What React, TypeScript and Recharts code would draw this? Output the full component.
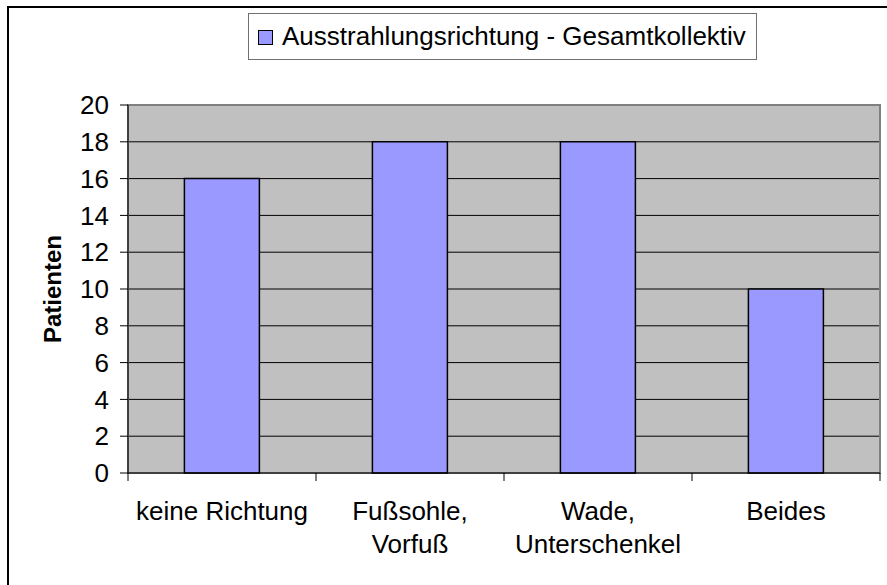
import {
  Bar,
  BarChart,
  CartesianGrid,
  Legend,
  ReferenceArea,
  XAxis,
  YAxis,
} from 'recharts';

const CATEGORIES = ['keine Richtung', 'Fußsohle,\nVorfuß', 'Wade,\nUnterschenkel', 'Beides'];
const PATIENTEN = [16, 18, 18, 10];
const Y_TICKS = [0, 2, 4, 6, 8, 10, 12, 14, 16, 18, 20];
const SERIES_NAME = 'Ausstrahlungsrichtung - Gesamtkollektiv';

// bottom axis runs 0..4: whole numbers are the category borders, halves the category centres
const BORDER_TICKS = CATEGORIES.flatMap((_, i) => [i, i + 0.5]).concat(CATEGORIES.length);

const data = CATEGORIES.map((name, i) => ({ name, pos: i + 0.5, value: PATIENTEN[i] }));

const FONT = '"Liberation Sans", Arial, sans-serif';
const BAR_FILL = '#9999FF';

function BottomTick({ x, y, payload }: any) {
  const v = payload.value as number;
  if (Number.isInteger(v)) {
    return <line x1={x} x2={x} y1={y} y2={y + 8} stroke="#000" strokeWidth={1} />;
  }
  const lines = CATEGORIES[Math.floor(v)].split('\n');
  return (
    <text x={x} y={y} textAnchor="middle" fontSize={26} fontFamily={FONT} fill="#000">
      {lines.map((l, i) => (
        <tspan key={i} x={x} dy={i === 0 ? 47 : 33}>
          {l}
        </tspan>
      ))}
    </text>
  );
}

function YLabel({ viewBox }: any) {
  const cx = viewBox.x + 52;
  const cy = viewBox.y + viewBox.height / 2;
  return (
    <text
      x={cx}
      y={cy}
      transform={`rotate(-90 ${cx} ${cy})`}
      textAnchor="middle"
      dominantBaseline="central"
      fontSize={24}
      fontWeight="bold"
      fontFamily={FONT}
      fill="#000"
    >
      Patienten
    </text>
  );
}

function LegendBox({ payload }: any) {
  const item = payload?.[0];
  return (
    <div
      style={{
        boxSizing: 'border-box',
        width: '100%',
        height: '100%',
        border: '1px solid #707070',
        background: '#fff',
        display: 'flex',
        alignItems: 'center',
        paddingLeft: 9,
        fontFamily: FONT,
        fontSize: 26,
        color: '#000',
      }}
    >
      <span
        style={{
          display: 'inline-block',
          boxSizing: 'border-box',
          width: 15,
          height: 15,
          background: item?.color ?? BAR_FILL,
          border: '1.5px solid #000',
          marginRight: 9,
          marginTop: 2,
        }}
      />
      <span>{item?.value ?? SERIES_NAME}</span>
    </div>
  );
}

export default function App() {
  return (
    <div
      style={{
        position: 'absolute',
        left: 0,
        top: 0,
        width: 887,
        height: 585,
        overflow: 'hidden',
        background: '#fff',
      }}
    >
      <div
        style={{
          position: 'absolute',
          left: 7,
          top: 6,
          width: 920,
          height: 620,
          borderTop: '2px solid #000',
          borderLeft: '2px solid #000',
        }}
      />
      <div style={{ position: 'absolute', left: 0, top: 0 }}>
        <BarChart
          width={887}
          height={585}
          data={data}
          margin={{ top: 105, right: 7, bottom: 0, left: 0 }}
          barCategoryGap="30%"
        >
          <CartesianGrid
            vertical={false}
            stroke="#000"
            strokeWidth={1}
            fill="#C0C0C0"
            fillOpacity={1}
          />
          <ReferenceArea
            x1={0}
            x2={4}
            y1={0}
            y2={20}
            fill="none"
            stroke="#808080"
            strokeWidth={2}
            ifOverflow="visible"
          />
          <XAxis
            dataKey="pos"
            type="number"
            domain={[0, 4]}
            ticks={BORDER_TICKS}
            interval={0}
            tickLine={false}
            tickSize={0}
            tickMargin={0}
            tick={<BottomTick />}
            axisLine={{ stroke: '#000', strokeWidth: 1 }}
            height={112}
          />
          <YAxis
            domain={[0, 20]}
            ticks={Y_TICKS}
            interval={0}
            width={128}
            tickSize={8}
            tickMargin={11}
            tickLine={{ stroke: '#000' }}
            axisLine={{ stroke: '#000' }}
            tick={{ fill: '#000', fontSize: 26, fontFamily: FONT }}
            label={<YLabel />}
          />
          <Legend
            layout="horizontal"
            verticalAlign="middle"
            align="center"
            content={<LegendBox />}
            wrapperStyle={{ left: 248, top: 13, width: 509, height: 47, right: 'auto', bottom: 'auto' }}
          />
          <Bar
            dataKey="value"
            name={SERIES_NAME}
            fill={BAR_FILL}
            stroke="#000"
            strokeWidth={1.5}
            isAnimationActive={false}
          />
        </BarChart>
      </div>
    </div>
  );
}
